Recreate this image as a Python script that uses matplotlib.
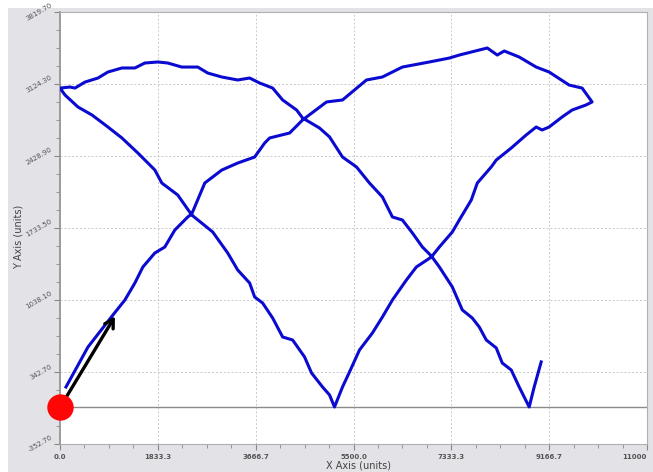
import matplotlib.pyplot as plt
from matplotlib.patches import Rectangle
from matplotlib.ticker import AutoMinorLocator

# traced path (data units), starts at the origin marker
path_x = [112, 524, 991, 1216, 1403, 1553, 1777, 1964, 2152, 2394, 2469, 2713, 3031, 3330,
          3648, 3835, 3928, 4303, 4546, 4995, 5294, 5743, 6042, 6416, 6922, 7296, 7483,
          8007, 8194, 8325, 8605, 8923, 9166, 9541, 9784, 9971,
          9859, 9597, 9410, 9166, 9035, 8923, 8736, 8456, 8175, 8081, 7820, 7707, 7483,
          7352, 7109, 6959, 6678, 6491, 6229, 6042, 5855, 5612, 5425, 5294, 5144,
          5051, 4920, 4714, 4583, 4359, 4172, 3985, 3797, 3648, 3554, 3330, 3143, 2862,
          2582, 2469, 2207, 1908, 1777, 1459, 1160, 898, 599, 337, 94, 0,
          187, 281, 468, 711, 898, 1160, 1403, 1590, 1833, 2020, 2282, 2582, 2769, 3031,
          3330, 3554, 3741, 3985, 4172, 4434, 4546, 4864, 5051, 5294, 5556, 5799, 6042,
          6229, 6416, 6603, 6791, 6959, 7109, 7352, 7539, 7726, 7857, 7988, 8175, 8287,
          8456, 8605, 8792,
          8886, 9017]
path_y = [198, 584, 893, 1038, 1202, 1357, 1492, 1550, 1714, 1840, 1869, 2168, 2293, 2361,
          2419, 2554, 2603, 2651, 2777, 2951, 2970, 3163, 3192, 3288, 3337, 3375, 3404,
          3472, 3404, 3443, 3385, 3288, 3240, 3114, 3085, 2951,
          2922, 2873, 2806, 2709, 2680, 2709, 2632, 2506, 2390, 2323, 2168, 2004, 1811,
          1695, 1550, 1453, 1357, 1231, 1038, 874, 720, 555, 343, 198, 5,
          121, 198, 333, 488, 652, 681, 864, 1009, 1067, 1202, 1328, 1492, 1695,
          1811, 1859, 2052, 2168, 2294, 2458, 2603, 2709, 2825, 2902, 3018, 3085,
          3095, 3085, 3143, 3182, 3240, 3279, 3279, 3327, 3337, 3327, 3288, 3288, 3230, 3192,
          3163, 3182, 3134, 3085, 2970, 2873, 2796, 2699, 2613, 2419, 2323, 2168, 2033,
          1840, 1811, 1686, 1550, 1463, 1357, 1164, 942, 864, 777, 652, 575, 430,
          362, 198, 5,
          198, 440]

start_point = (0, 0)
arrow_tip = (1030, 880)

x_ticks = [0, 1833.3, 3666.7, 5500.0, 7333.3, 9166.7, 11000]
x_labels = ['0.0', '1833.3', '3666.7', '5500.0', '7333.3', '9166.7', '11000']
y_ticks = [-352.7, 342.7, 1038.1, 1733.5, 2428.9, 3124.3, 3819.7]
y_labels = ['-352.70', '342.70', '1038.10', '1733.50', '2428.90', '3124.30', '3819.70']

fig = plt.figure(figsize=(6.53, 4.72), dpi=100)
fig.patch.set_facecolor('white')
fig.patches.append(Rectangle((8 / 653, 0), 1, 1 - 8 / 472, transform=fig.transFigure,
                             facecolor='#e2e2e7', edgecolor='none', zorder=-10))

ax = fig.add_axes([60 / 653, 28 / 472, 587 / 653, 432 / 472])
ax.set_facecolor('white')
ax.set_xlim(0, 11000)
ax.set_ylim(-352.7, 3819.7)

ax.grid(True, which='major', color='#c8c8c8', linestyle=(0, (2, 2)), linewidth=0.7)
ax.axhline(0, color='#8a8a8a', linewidth=1.0, zorder=2)

ax.plot(path_x, path_y, color='#0a0ad0', linewidth=2.2, zorder=3, solid_joinstyle='round')

ax.annotate('', xy=arrow_tip, xytext=start_point,
            arrowprops=dict(arrowstyle='->,head_length=0.6,head_width=0.35',
                            color='black', lw=2.4, shrinkA=0, shrinkB=0), zorder=4)
ax.plot(*start_point, 'o', color='#ff0505', markersize=19, clip_on=False, zorder=5,
        markeredgewidth=0)

ax.set_xticks(x_ticks)
ax.set_xticklabels(x_labels)
ax.set_yticks(y_ticks)
ax.set_yticklabels(y_labels, rotation=30, va='center', ha='right')
ax.xaxis.set_minor_locator(AutoMinorLocator(4))
ax.yaxis.set_minor_locator(AutoMinorLocator(4))
ax.tick_params(which='both', direction='out', colors='#888888', labelcolor='#555555',
               labelsize=5)
ax.tick_params(which='major', length=4)
ax.tick_params(which='minor', length=3)
ax.tick_params(axis='y', pad=1)
for lab in ax.get_xticklabels():
    lab.set_fontweight('bold')
ax.get_xticklabels()[-1].set_horizontalalignment('right')

for side in ['top', 'right', 'bottom']:
    ax.spines[side].set_color('#b0b0b0')
ax.spines['left'].set_color('#909090')
ax.spines['left'].set_linewidth(1.2)

fig.text(358 / 653, 1 - 465 / 472, 'X Axis (units)', fontsize=7, color='#444444',
         ha='center', va='center')
fig.text(19 / 653, 1 - 237 / 472, 'Y Axis (units)', fontsize=7, color='#444444',
         rotation=90, ha='center', va='center')

fig.savefig('out.png', dpi=100)
